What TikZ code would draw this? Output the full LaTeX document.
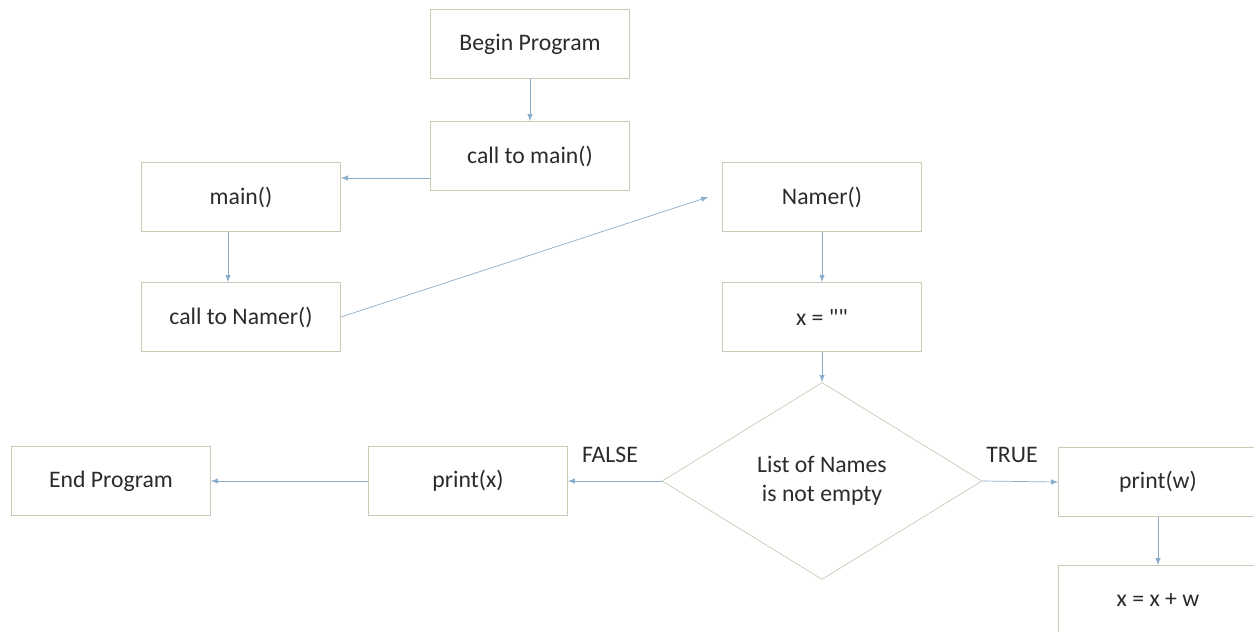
\documentclass[tikz,border=0pt]{standalone}
\usepackage{fontspec}
\setmainfont{Carlito}
\usetikzlibrary{positioning,calc,shapes.geometric}
\definecolor{boxline}{HTML}{C8CCB6}
\definecolor{flowline}{HTML}{8AADCB}
\definecolor{txt}{HTML}{2B2B2B}

\begin{document}
\begin{tikzpicture}[x=0.02cm, y=-0.02cm, >=latex,
    every node/.style={font=\fontsize{13.5}{16.5}\selectfont, text=txt},
    box/.style={draw=boxline, fill=white, minimum width=3.98cm, minimum height=1.38cm, inner sep=0pt},
    decision/.style={draw=boxline, fill=white, diamond, aspect=1.625, minimum width=6.4cm, minimum height=3.94cm, inner sep=0pt, align=center},
    flow/.style={->, draw=flowline, thin}]
    \clip (0,0) rectangle (1254,632);
    \node[box] (begin) at (530,44) {Begin Program};
    \node[box] (callmain) at (530,156) {call to main()};
    \node[box] (main) at (241,197) {main()};
    \node[box] (callnamer) at (241,317) {call to Namer()};
    \node[box] (namer) at (822,197) {Namer()};
    \node[box] (xinit) at (822,317) {x = \textquotedbl\textquotedbl};
    \node[decision] (cond) at (822,481) {List of Names\\is not empty};
    \node[box] (printx) at (468,481) {print(x)};
    \node[box] (endp) at (111,481) {End Program};
    \node[box] (printw) at (1158,482) {print(w)};
    \node[box] (xupd) at (1158,600) {x = x + w};
    \node (false) at (610,455) {FALSE};
    \node (true) at (1012,455) {TRUE};
    \draw[flow] (begin) -- (callmain);
    \draw[flow] ($(callmain.west)+(0,22)$) coordinate (cm) -- (cm -| main.east);
    \draw[flow] ($(main.south)+(-13,0)$) coordinate (ms) -- (ms |- callnamer.north);
    \draw[flow] (callnamer.east) -- ($(namer.west)+(-14,0)$);
    \draw[flow] (namer) -- (xinit);
    \draw[flow] (xinit) -- (cond);
    \draw[flow] (cond.west) -- (printx.east);
    \draw[flow] (printx) -- (endp);
    \draw[flow] (cond.east) -- (printw.west);
    \draw[flow] (printw) -- (xupd);
\end{tikzpicture}
\end{document}
